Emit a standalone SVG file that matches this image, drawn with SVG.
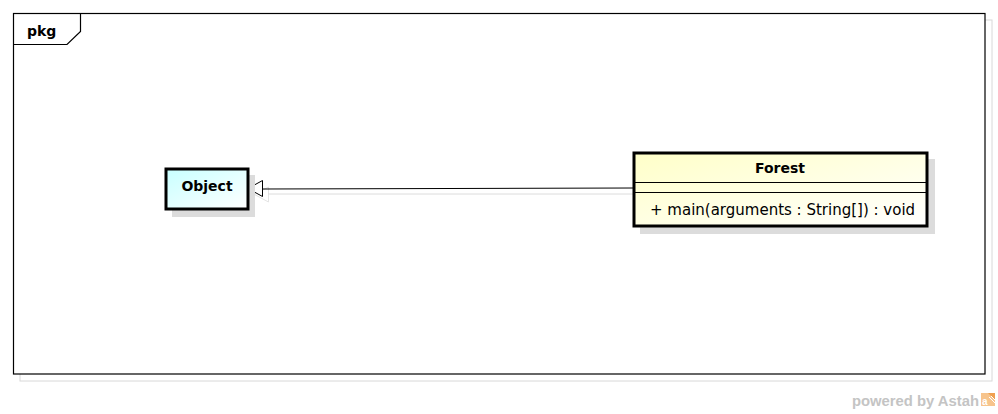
<svg xmlns="http://www.w3.org/2000/svg" width="998" height="414" viewBox="0 0 998 414">
<style>
.shadow{fill:#dcdcdc;stroke:none}
.box{stroke:#000;stroke-width:3}
.t{font-family:"DejaVu Sans","Liberation Sans",sans-serif;font-size:14px;fill:#000}
.r{font-size:15px}
.b{font-weight:bold}
</style>
<defs>
<linearGradient id="gObj" x1="0" y1="0" x2="1" y2="1">
<stop offset="0" stop-color="#c8ffff"/><stop offset="1" stop-color="#ffffff"/>
</linearGradient>
<linearGradient id="gFor" x1="0" y1="0" x2="1" y2="1">
<stop offset="0" stop-color="#ffffc8"/><stop offset="1" stop-color="#ffffff"/>
</linearGradient>
</defs>
<rect width="998" height="414" fill="#fff"/>
<g id="frame">
<rect x="20" y="20" width="972" height="361" fill="none" stroke="#d8d8d8" stroke-width="1"/>
<rect x="13.5" y="13.5" width="971.5" height="360.5" fill="#fff" stroke="#000" stroke-width="1.2"/>
<path d="M13.5 44.5 H67 L80.5 31.5 V13.5" fill="none" stroke="#000" stroke-width="1.2"/>
<text class="t b" x="27" y="36">pkg</text>
</g>
<g id="connectors">
<polygon points="254.5,194.5 268.5,187 268.5,202" fill="none" stroke="#e4e4e4" stroke-width="1"/>
<line x1="268" y1="194" x2="634" y2="194" stroke="#dcdcdc" stroke-width="1"/>
<line x1="262" y1="189" x2="634" y2="188" stroke="#000" stroke-width="1"/>
<polygon points="248,188.5 262.5,180.5 262.5,196.5" fill="#fff" stroke="#000" stroke-width="1"/>
</g>
<g id="Object">
<rect class="shadow" x="172" y="175" width="83" height="42"/>
<rect class="box" x="166" y="169" width="82" height="40" fill="url(#gObj)"/>
<text class="t b" x="207" y="191" text-anchor="middle">Object</text>
</g>
<g id="Forest">
<rect class="shadow" x="640" y="159" width="295" height="75"/>
<rect class="box" x="634" y="153" width="293" height="73" fill="url(#gFor)"/>
<line x1="634" y1="182.5" x2="927" y2="182.5" stroke="#000" stroke-width="1"/>
<line x1="634" y1="192.5" x2="927" y2="192.5" stroke="#000" stroke-width="1"/>
<text class="t b" x="780" y="173" text-anchor="middle">Forest</text>
<text class="t r" x="650" y="215">+ main(arguments : String[]) : void</text>
</g>
<g id="footer">
<text x="852" y="406" font-family="'Liberation Sans',Arial,sans-serif" font-size="14" font-weight="bold" fill="#c4c4c4" textLength="127" lengthAdjust="spacingAndGlyphs">powered by Astah</text>
<rect x="981" y="393" width="14" height="13" fill="#f7c48c"/>
<path d="M988 393 L995 400 V393 Z" fill="#f0a050"/>
<path d="M989 397 L995 403 M991 396 L995 400" stroke="#fff" stroke-width="1"/>
<text x="982" y="405" font-family="'Liberation Sans',sans-serif" font-size="10" font-weight="bold" fill="#fff">a</text>
</g>
</svg>
